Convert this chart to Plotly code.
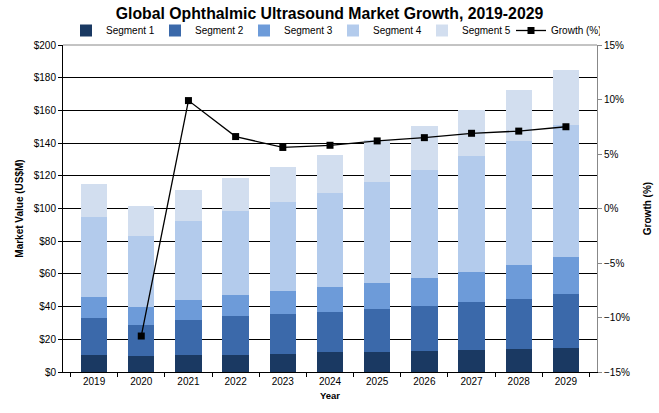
import plotly.graph_objects as go

years = ["2019", "2020", "2021", "2022", "2023", "2024", "2025", "2026", "2027", "2028", "2029"]
seg1 = [10.7, 9.5, 10.7, 10.7, 11.3, 12.1, 12.5, 13.0, 13.7, 14.3, 14.9]
seg2 = [22.5, 19.5, 21.3, 23.3, 24.4, 24.8, 26.2, 27.5, 29.3, 30.5, 33.0]
seg3 = [12.8, 10.5, 12.2, 12.8, 13.6, 14.8, 15.7, 17.1, 18.3, 20.7, 22.5]
seg4 = [48.6, 43.7, 48.4, 51.9, 54.8, 57.9, 61.9, 65.9, 70.7, 75.8, 80.5]
seg5 = [20.3, 18.3, 18.7, 20.1, 21.4, 23.0, 25.5, 26.8, 28.5, 31.0, 34.0]
growth = [None, -11.7, 9.9, 6.6, 5.6, 5.8, 6.2, 6.5, 6.9, 7.1, 7.5]

seg_names = ["Segment 1", "Segment 2", "Segment 3", "Segment 4", "Segment 5"]
seg_colors = ["#1a3962", "#3b69aa", "#6d9bd9", "#b3cbec", "#d2deef"]

fig = go.Figure()
for name, vals, col in zip(seg_names, [seg1, seg2, seg3, seg4, seg5], seg_colors):
    fig.add_trace(go.Bar(x=years, y=vals, name=name, marker=dict(color=col, line=dict(width=0)),
                         yaxis="y"))

fig.add_trace(go.Scatter(x=years, y=growth, name="Growth (%)", mode="lines+markers",
                         line=dict(color="black", width=1.3),
                         marker=dict(symbol="square", size=7, color="black"),
                         yaxis="y2"))

font = "Liberation Sans, Arial, sans-serif"
fig.update_layout(
    width=659, height=413,
    margin=dict(l=63, r=62, t=45, b=41, autoexpand=False),
    paper_bgcolor="white", plot_bgcolor="white",
    barmode="stack", bargap=0.44,
    font=dict(family=font, size=10, color="black"),
    title=dict(text="<b>Global Ophthalmic Ultrasound Market Growth, 2019-2029</b>",
               x=0.5, xanchor="center", y=0.968, yanchor="middle",
               font=dict(size=15.8, family=font, color="black")),
    legend=dict(orientation="h", x=(66 - 63) / 534, xanchor="left", y=1.0, yanchor="bottom",
                font=dict(size=10), bgcolor="rgba(0,0,0,0)", traceorder="normal",
                itemwidth=30, tracegroupgap=0, entrywidth=44, entrywidthmode="pixels"),
    xaxis=dict(title=dict(text="<b>Year</b>", font=dict(size=9.5), standoff=6),
               showline=True, linecolor="black", linewidth=1,
               ticks="outside", tickson="boundaries", ticklen=4, tickcolor="black",
               tickfont=dict(size=10), mirror=False),
    yaxis=dict(title=dict(text="<b>Market Value (US$M)</b>", font=dict(size=10), standoff=8),
               range=[0, 200], dtick=20, tickprefix="$",
               showgrid=True, gridcolor="black", gridwidth=1,
               showline=True, linecolor="black", linewidth=1,
               ticks="outside", ticklen=4, tickcolor="black", zeroline=False),
    yaxis2=dict(title=dict(text="<b>Growth (%)</b>", font=dict(size=10), standoff=15),
                overlaying="y", side="right", range=[-15, 15], dtick=5, ticksuffix="%",
                showgrid=False, zeroline=False,
                showline=True, linecolor="#888888", linewidth=1,
                ticks="outside", ticklen=4, tickcolor="#888888"),
    shapes=[dict(type="line", xref="paper", yref="paper", x0=0, x1=1, y0=1, y1=1,
                 line=dict(color="#888888", width=1))],
)

fig.write_html("out.html")
